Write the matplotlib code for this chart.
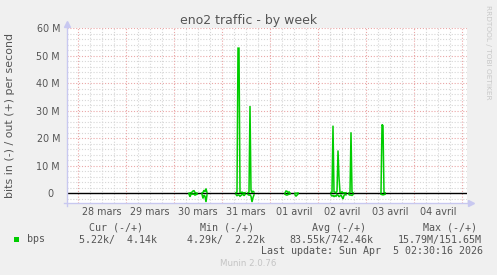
import matplotlib
matplotlib.use("Agg")
import matplotlib.pyplot as plt
import numpy as np
import pandas as pd
from matplotlib.lines import Line2D
from matplotlib.patches import Rectangle

# ---------------- data ----------------
title = "eno2 traffic - by week"
ylabel = "bits in (-) / out (+) per second"
x_start = "2026-03-27 18:30"
x_end = "2026-04-05 02:30"
day_dates = ["2026-03-28", "2026-03-29", "2026-03-30", "2026-03-31",
             "2026-04-01", "2026-04-02", "2026-04-03", "2026-04-04"]
day_labels = ["28 mars", "29 mars", "30 mars", "31 mars",
              "01 avril", "02 avril", "03 avril", "04 avril"]
y_ticks = [0, 10, 20, 30, 40, 50, 60]          # Mbit/s
y_tick_labels = ["0\u2007", "10 M", "20 M", "30 M", "40 M", "50 M", "60 M"]
y_min, y_max = -3.45, 60

# sampled (30 min) segments of known data; everything else is unknown
seg_starts = ["2026-03-30 07:30", "2026-03-30 14:00", "2026-03-31 07:00",
              "2026-03-31 13:00", "2026-04-01 07:30", "2026-04-01 12:30",
              "2026-04-02 06:30", "2026-04-02 15:30", "2026-04-03 07:30"]
seg_out = [  # Mbit/s, out (+)
    [0.1, 0.2, 0.3, 0.5, 0.9, 1.0, 0.4, 0.2, 0.1],
    [0.2, 0.4, 1.2, 0.6, 1.8, 0.3],
    [0.3, 0.5, 52.7, 52.7, 0.4, 0.3, 0.5, 0.3, 0.2, 0.3],
    [0.3, 0.5, 31.7, 1.2, 0.3, 0.8, 0.5],
    [0.2, 0.9, 0.8, 0.3, 0.6, 0.2],
    [0.1, 0.1, 0.1, 0.2],
    [0.3, 0.5, 24.6, 0.6, 0.5, 0.3, 0.8, 15.6, 6.0, 0.4, 0.3, 0.6, 0.2, 0.3, 0.2, 0.3],
    [0.2, 0.4, 22.2, 0.5, 0.3],
    [0.3, 25.0, 24.6, 0.4, 0.3],
]
seg_in = [  # Mbit/s, in (-)
    [0.2, 1.2, 0.3, 0.2, 0.3, 0.2, 0.6, 0.4, 0.3],
    [0.3, 1.8, 0.6, 1.0, 3.1, 0.5],
    [0.4, 0.8, 0.5, 0.6, 1.0, 0.7, 0.4, 0.3, 0.8, 0.4],
    [0.4, 0.6, 0.5, 1.0, 3.1, 1.5, 0.5],
    [0.3, 0.5, 0.6, 0.4, 0.3, 0.2],
    [0.5, 1.0, 0.6, 0.2],
    [0.5, 1.0, 0.6, 1.2, 0.8, 1.0, 0.4, 0.6, 1.2, 0.9, 0.5, 1.3, 2.0, 0.7, 0.4, 0.5],
    [0.4, 0.6, 0.5, 0.7, 0.4],
    [0.3, 0.4, 0.5, 0.4, 0.3],
]

series_name = "bps"
legend_header = ["Cur (-/+)", "Min (-/+)", "Avg (-/+)", "Max (-/+)"]
legend_values = ["5.22k/  4.14k", "4.29k/  2.22k", "83.55k/742.46k", "15.79M/151.65M"]
last_update = "Last update: Sun Apr  5 02:30:16 2026"
footer = "Munin 2.0.76"
watermark = "RRDTOOL / TOBI OETIKER"

# ---------------- build series ----------------
idx = pd.date_range(x_start, x_end, freq="30min")
out_s = pd.Series(np.nan, index=idx)
in_s = pd.Series(np.nan, index=idx)
for st, o, i in zip(seg_starts, seg_out, seg_in):
    t = pd.date_range(st, periods=len(o), freq="30min")
    out_s.loc[t] = o
    in_s.loc[t] = i

# ---------------- figure ----------------
W, H = 497, 275
BG = "#f0f0f0"
GREEN = "#00cc00"
TXT = "#555555"
AXC = "#c8c8f0"
fig = plt.figure(figsize=(W / 100, H / 100), dpi=100, facecolor=BG)


def fx(px):
    return px / W


def fy(py):
    return 1 - py / H


L, R, T, B = 67, 467, 28, 203
ax = fig.add_axes([fx(L), fy(B), (R - L) / W, (B - T) / H])
ax.set_facecolor("white")
for s in ax.spines.values():
    s.set_visible(False)

t0 = pd.Timestamp(x_start)
t1 = pd.Timestamp(x_end)
ax.set_xlim(t0, t1)
ax.set_ylim(y_min, y_max)

# grid
minor_c = "#d6d6d6"
major_c = "#eaa6a6"
dot = (0, (1, 1.6))
for v in np.arange(-2, y_max + 0.1, 2):
    if abs(v) < 1e-9:
        continue
    is_major = abs(v % 10) < 1e-9
    ax.axhline(v, color=major_c if is_major else minor_c, lw=0.8, ls=dot, zorder=1)
for t in pd.date_range("2026-03-27 00:00", x_end, freq="6h"):
    if t <= t0 or t >= t1:
        continue
    is_major = t.hour == 0
    ax.axvline(t, color=major_c if is_major else minor_c, lw=0.8, ls=dot, zorder=1)

# zero line
ax.axhline(0, color="black", lw=1.0, zorder=2)

# data
ax.plot(idx, out_s.values, color=GREEN, lw=1.1, zorder=3, solid_joinstyle="miter")
ax.plot(idx, -in_s.values, color=GREEN, lw=1.1, zorder=3, solid_joinstyle="miter")

# ticks
ax.set_yticks(y_ticks)
ax.set_yticklabels(y_tick_labels)
noon = [pd.Timestamp(d) + pd.Timedelta(hours=12) for d in day_dates]
ax.set_xticks(noon)
ax.set_xticklabels(day_labels)
ax.tick_params(axis="both", length=0, labelsize=6.9, labelcolor=TXT)
ax.tick_params(axis="y", pad=5)
ax.tick_params(axis="x", pad=3.2)

# axis lines with arrows
fig.add_artist(Line2D([fx(67), fx(67)], [fy(206), fy(23)], color=AXC, lw=1.0))
fig.add_artist(Line2D([fx(64), fx(471)], [fy(203), fy(203)], color=AXC, lw=1.0))
fig.add_artist(Line2D([fx(67)], [fy(24)], marker="^", ms=4.5, color=AXC, lw=0))
fig.add_artist(Line2D([fx(471)], [fy(203)], marker=">", ms=4.5, color=AXC, lw=0))

# titles
fig.text(fx(248.5), fy(24), title, ha="center", va="baseline", fontsize=9, color=TXT)
fig.text(fx(10.5), fy(115), ylabel, ha="center", va="center", rotation=90,
         fontsize=7.9, color=TXT)
fig.text(fx(488), fy(5), watermark, ha="center", va="top", rotation=270,
         fontsize=5.3, color="#c8c8c8")

# legend area
mono = "DejaVu Sans Mono"
LS = 7.2
hdr_x = [89.3, 200, 312, 422.7]
val_x = [78.7, 186.7, 289.3, 397.3]
for x, s in zip(hdr_x, legend_header):
    fig.text(fx(x), fy(227.7), s, ha="left", va="center", fontsize=LS,
             family=mono, color=TXT)
fig.add_artist(Rectangle((fx(14), fy(242)), 5.3 / W, 4.7 / H, facecolor=GREEN,
                         edgecolor="none", transform=fig.transFigure))
fig.text(fx(26.7), fy(239.5), series_name, ha="left", va="center", fontsize=LS,
         family=mono, color=TXT)
for x, s in zip(val_x, legend_values):
    fig.text(fx(x), fy(239.5), s, ha="left", va="center", fontsize=LS,
             family=mono, color=TXT)
fig.text(fx(482.7), fy(251), last_update, ha="right", va="center", fontsize=LS,
         family=mono, color=TXT)
fig.text(fx(248), fy(264), footer, ha="center", va="center", fontsize=6.2,
         color="#c4c4c4")

fig.savefig("out.png", dpi=100, facecolor=BG)
